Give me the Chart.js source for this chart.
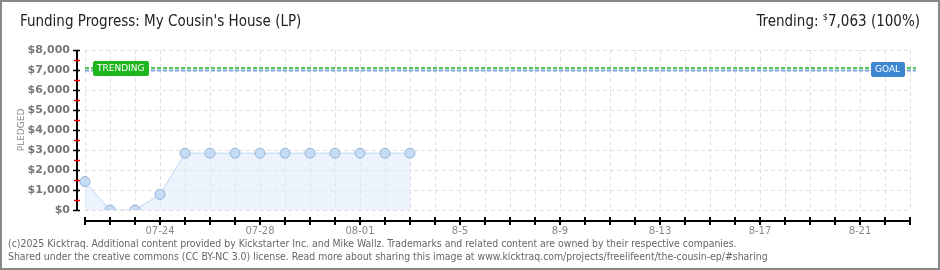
<!DOCTYPE html>
<html>
<head>
<meta charset="utf-8">
<script src="https://cdn.jsdelivr.net/npm/chart.js@4"></script>
<style>
  body { margin: 0; background: #fff; }
  #wrap { position: relative; width: 940px; height: 270px; font-family: "DejaVu Sans Condensed", sans-serif; }
  #frame { position: absolute; left: 0; top: 0; width: 936px; height: 266px; border: 2px solid #888; pointer-events: none; }
  #title { position: absolute; left: 20px; top: 12px; font-size: 15px; color: #222; white-space: nowrap; }
  #trend { position: absolute; right: 20px; top: 12px; font-size: 15px; color: #222; white-space: nowrap; }
  #trend sup { font-size: 9px; }
  .foot { position: absolute; left: 8px; font-family: "DejaVu Sans Condensed", sans-serif; font-size: 10.4px; color: #666; white-space: nowrap; }
</style>
</head>
<body>
<div id="wrap">
  <canvas id="chart" width="940" height="270"></canvas>
  <div id="title">Funding Progress: My Cousin's House (LP)</div>
  <div id="trend">Trending: <sup>$</sup>7,063 (100%)</div>
  <div class="foot" style="top:237px">(c)2025 Kicktraq. Additional content provided by Kickstarter Inc. and Mike Wallz. Trademarks and related content are owned by their respective companies.</div>
  <div class="foot" style="top:250px">Shared under the creative commons (CC BY-NC 3.0) license. Read more about sharing this image at www.kicktraq.com/projects/freelifeent/the-cousin-ep/#sharing</div>
  <div id="frame"></div>
</div>
<script>
// Days on the x axis
const days = ['07-21', '07-22', '07-23', '07-24', '07-25', '07-26', '07-27', '07-28', '07-29', '07-30',
  '07-31', '08-01', '08-02', '08-03', '8-4', '8-5', '8-6', '8-7', '8-8', '8-9', '8-10', '8-11', '8-12',
  '8-13', '8-14', '8-15', '8-16', '8-17', '8-18', '8-19', '8-20', '8-21', '8-22', '8-23'];
// Pledged per day (only first 14 days have data)
const pledged = [1420, 0, 0, 780, 2840, 2840, 2840, 2840, 2840, 2840, 2840, 2840, 2840, 2840];
const trendingValue = 7063;
const goalValue = 7000;
const yTicks = [0, 1000, 2000, 3000, 4000, 5000, 6000, 7000, 8000];

function roundBox(ctx, x, y, w, h, r) {
    ctx.beginPath();
    ctx.moveTo(x + r, y);
    ctx.arcTo(x + w, y, x + w, y + h, r);
    ctx.arcTo(x + w, y + h, x, y + h, r);
    ctx.arcTo(x, y + h, x, y, r);
    ctx.arcTo(x, y, x + w, y, r);
    ctx.closePath();
}

// Axes, the trending / goal lines and their tags
const extras = {
    id: 'extras',
    beforeDatasetsDraw(chart) {
        const ctx = chart.ctx;
        const y = chart.scales.y;
        const a = chart.chartArea;
        ctx.save();
        ctx.lineWidth = 2;
        ctx.setLineDash([4, 2]);
        ctx.strokeStyle = '#55c855';
        let py = Math.round(y.getPixelForValue(trendingValue)) - 1;
        ctx.beginPath(); ctx.moveTo(a.left, py); ctx.lineTo(a.right + 6, py); ctx.stroke();
        ctx.strokeStyle = '#7ea6da';
        py = Math.round(y.getPixelForValue(goalValue)) + 0.5;
        ctx.beginPath(); ctx.moveTo(a.left, py); ctx.lineTo(a.right + 6, py); ctx.stroke();
        ctx.restore();
    },
    afterDraw(chart) {
        const ctx = chart.ctx;
        const x = chart.scales.x, y = chart.scales.y;
        const a = chart.chartArea;
        ctx.save();
        // y axis
        ctx.strokeStyle = '#000';
        ctx.lineWidth = 2;
        ctx.beginPath(); ctx.moveTo(77, a.top); ctx.lineTo(77, a.bottom + 1); ctx.stroke();
        for (let v = 0; v <= 8000; v += 500) {
            const py = Math.round(y.getPixelForValue(v)) + 0.5;
            ctx.strokeStyle = v % 1000 === 0 ? '#000' : '#e00';
            ctx.lineWidth = 1.5;
            ctx.beginPath(); ctx.moveTo(v % 1000 === 0 ? 73 : 74, py); ctx.lineTo(80, py); ctx.stroke();
        }
        // x axis
        ctx.strokeStyle = '#000';
        ctx.lineWidth = 2;
        ctx.beginPath(); ctx.moveTo(a.left, 221); ctx.lineTo(a.right + 1, 221); ctx.stroke();
        for (let i = 0; i < days.length; i++) {
            const px = Math.round(x.getPixelForValue(i));
            ctx.beginPath(); ctx.moveTo(px, 217); ctx.lineTo(px, 225); ctx.stroke();
        }
        // tags
        const ty = Math.round(y.getPixelForValue(trendingValue));
        ctx.font = '9px "DejaVu Sans"';
        ctx.textBaseline = 'middle';
        ctx.fillStyle = '#1fb51f';
        roundBox(ctx, 93, ty - 8, 56, 15, 2); ctx.fill();
        ctx.fillStyle = '#fff';
        ctx.fillText('TRENDING', 97, ty);
        ctx.fillStyle = '#3d86d1';
        roundBox(ctx, 871, ty - 7, 34, 15, 2); ctx.fill();
        ctx.fillStyle = '#fff';
        ctx.fillText('GOAL', 875, ty + 1);
        // side label
        ctx.translate(22, 130);
        ctx.rotate(-Math.PI / 2);
        ctx.font = '9px "DejaVu Sans"';
        ctx.fillStyle = '#888';
        ctx.textAlign = 'center';
        ctx.fillText('PLEDGED', 0, 0);
        ctx.restore();
    }
};

new Chart(document.getElementById('chart'), {
    type: 'line',
    data: {
        labels: days,
        datasets: [{
            data: pledged,
            borderColor: '#bcd6f2',
            borderWidth: 1,
            backgroundColor: 'rgba(222, 234, 250, 0.55)',
            fill: 'origin',
            tension: 0,
            pointRadius: 5,
            pointBackgroundColor: '#c4dcf6',
            pointBorderColor: '#98b3d3',
            pointBorderWidth: 1
        }]
    },
    options: {
        responsive: false,
        animation: false,
        layout: { padding: { top: 50, right: 30, left: 0, bottom: 0 } },
        plugins: { legend: { display: false }, tooltip: { enabled: false } },
        scales: {
            x: {
                offset: false,
                afterFit: s => { s.height = 60; },
                border: { display: false, dash: [4, 3] },
                grid: { color: '#e0e0e0', drawTicks: false },
                ticks: {
                    autoSkip: false,
                    maxRotation: 0,
                    padding: 15,
                    color: '#888',
                    font: { family: 'DejaVu Sans', size: 10 },
                    callback: (v, i) => (i - 3) % 4 === 0 ? days[i] : ''
                }
            },
            y: {
                min: 0,
                max: 8000,
                afterFit: s => { s.width = 85; },
                afterBuildTicks: s => { s.ticks = yTicks.map(v => ({ value: v })); },
                border: { display: false, dash: [4, 3] },
                grid: { color: '#e0e0e0', drawTicks: false },
                ticks: {
                    padding: 15,
                    color: '#777',
                    font: { family: 'DejaVu Sans', size: 11, weight: 'bold' },
                    callback: v => '$' + v.toLocaleString('en-US')
                }
            }
        }
    },
    plugins: [extras]
});
</script>
</body>
</html>
